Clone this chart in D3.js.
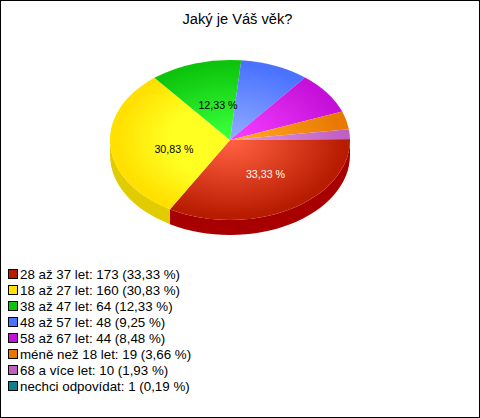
<!DOCTYPE html>
<html><head><meta charset="utf-8">
<style>html,body{margin:0;padding:0;background:#fff}svg{display:block}text{font-family:"Liberation Sans",Arial,sans-serif}</style>
<script src="https://cdn.jsdelivr.net/npm/d3@7"></script></head><body><svg id="c" width="480" height="418"></svg>
<script>
const title = "Jaký je Váš věk?";
const categories = ["28 až 37 let","18 až 27 let","38 až 47 let","48 až 57 let","58 až 67 let","méně než 18 let","68 a více let","nechci odpovídat"];
const counts = [173,160,64,48,44,19,10,1];
const percents = ["33,33","30,83","12,33","9,25","8,48","3,66","1,93","0,19"];
const baseColors = ["#b81c00","#ffe000","#0cc40c","#4a72ff","#c410d8","#e87800","#c060c0","#107f90"];
const lightColors = ["#ff5f40","#ffff22","#38ff38","#8eaaff","#f43cff","#ffa820","#e094e4","#30a0b0"];
const sideColors = ["#a80000","#e0cc00","#0a9c0a","#3a5acc","#9c0cac","#b86000","#9a4c9a","#0c6070"];
const plateaus = [.05,.5,.1,.05,.1,.1,.1,.1];
const labelled = {0:{dx:35.5,dy:37.5,fill:"#fff"},1:{dx:-56,dy:13,fill:"#000"},2:{dx:-12,dy:-31,fill:"#000"}};

const svg = d3.select("#c");
const W=480,H=418,cx=230,cy=140,rx=120,ry=80,depth=15;
svg.append("rect").attr("x",.5).attr("y",.5).attr("width",W-1).attr("height",H-1).attr("fill","#fff").attr("stroke","#000");
svg.append("text").attr("x",237.5).attr("y",24).attr("text-anchor","middle").attr("font-size",14.67).text(title);

const pie = d3.pie().sort(null).startAngle(Math.PI/2).endAngle(Math.PI/2+2*Math.PI);
const arcs = pie(counts);
const px = d3.scaleLinear().domain([-1,1]).range([cx-rx,cx+rx]);
const py = d3.scaleLinear().domain([-1,1]).range([cy-ry,cy+ry]);
const pt = a => [px(Math.sin(a)), py(-Math.cos(a))];

const defs = svg.append("defs");
arcs.forEach((d,i)=>{
  const g = defs.append("radialGradient").attr("id","g"+i).attr("gradientUnits","userSpaceOnUse")
    .attr("cx",0).attr("cy",0).attr("r",1);
  g.append("stop").attr("offset",0).attr("stop-color",lightColors[i]);
  g.append("stop").attr("offset",plateaus[i]).attr("stop-color",lightColors[i]);
  g.append("stop").attr("offset",.95).attr("stop-color",baseColors[i]);
});

const side = svg.append("g");
arcs.forEach((d,i)=>{
  const a0=Math.max(d.startAngle,Math.PI/2), a1=Math.min(d.endAngle,3*Math.PI/2);
  if(a1<=a0) return;
  const [x0,y0]=pt(a0), [x1,y1]=pt(a1);
  side.append("path").attr("fill",sideColors[i])
    .attr("d",`M${x0},${y0}A${rx},${ry} 0 0 1 ${x1},${y1}L${x1},${y1+depth}A${rx},${ry} 0 0 0 ${x0},${y0+depth}Z`);
});

const arc = d3.arc().innerRadius(0).outerRadius(1);
const topFace = svg.append("g").attr("transform",`translate(${cx},${cy}) scale(${rx},${ry})`);
topFace.selectAll("path").data(arcs).join("path").attr("d",arc).attr("fill",(d,i)=>`url(#g${i})`);

arcs.forEach((d,i)=>{
  const l=labelled[i]; if(!l) return;
  svg.append("text").attr("x",cx+l.dx).attr("y",cy+l.dy).attr("text-anchor","middle").attr("font-size",10.67)
    .attr("fill",l.fill).text(percents[i]+" %");
});

const ly = d3.scalePoint().domain(d3.range(categories.length)).range([274,386]);
const leg = svg.append("g").selectAll("g").data(categories).join("g").attr("transform",(d,i)=>`translate(0,${ly(i)})`);
leg.append("rect").attr("x",8.5).attr("y",-4.5).attr("width",9).attr("height",9).attr("stroke","#000").attr("fill",(d,i)=>baseColors[i]);
leg.append("text").attr("x",20).attr("y",4.5).attr("font-size",13.33)
  .text((d,i)=>`${d}: ${counts[i]} (${percents[i]} %)`);
</script></body></html>
